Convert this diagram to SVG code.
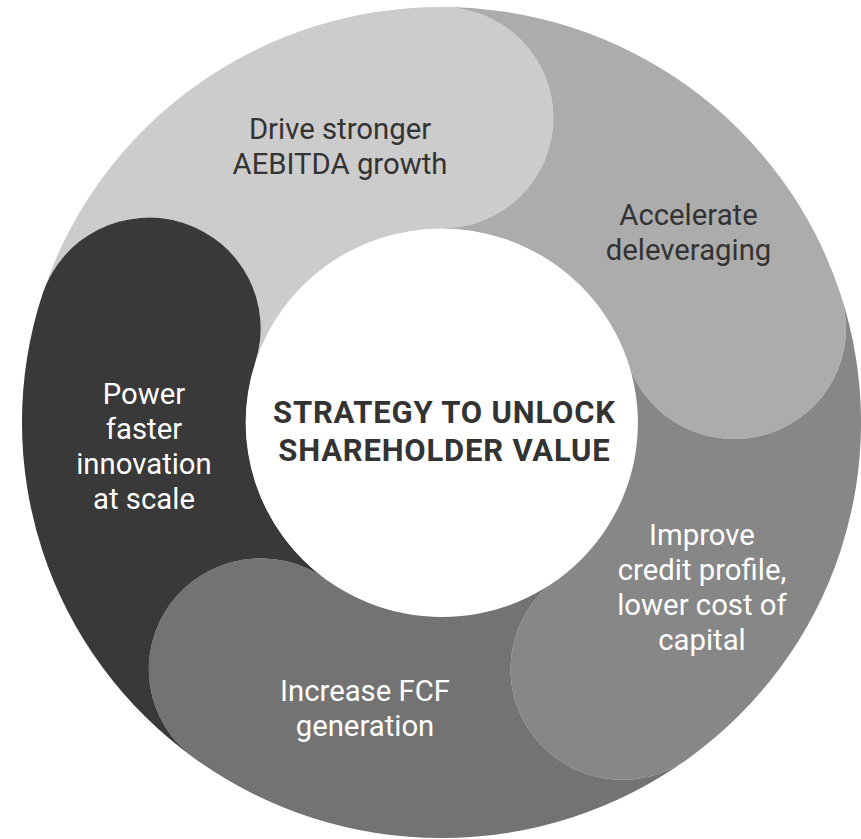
<svg xmlns="http://www.w3.org/2000/svg" width="861" height="839" viewBox="0 0 861 839">
<style>
.lbl{font-family:Roboto,"Liberation Sans",Arial,sans-serif;font-size:29.3px;text-anchor:middle}
.dk{fill:#333333}
.lt{fill:#ffffff}
.ctr{font-family:Roboto,"Liberation Sans",Arial,sans-serif;font-size:31px;letter-spacing:0.8px;font-weight:bold;text-anchor:middle;fill:#333333}
</style>
<rect width="861" height="839" fill="#ffffff"/>
<g id="ring" transform="translate(441.5,422.5) scale(1.0097,1)">
<g id="seg-drive"><path fill="#cccccc" d="M-184.505,-59.949 A110.75,110.75 0 0 0 -395.164,-128.397 A415.5,415.5 0 0 1 0,-415.5 A110.75,110.75 0 0 1 0,-194 A194,194 0 0 0 -184.505,-59.949 Z"/></g>
<g id="seg-accelerate"><path fill="#acacac" d="M0,-194 A110.75,110.75 0 0 0 0,-415.5 A415.5,415.5 0 0 1 395.164,-128.397 A110.75,110.75 0 0 1 184.505,-59.949 A194,194 0 0 0 0,-194 Z"/></g>
<g id="seg-improve"><path fill="#878787" d="M184.505,-59.949 A110.75,110.75 0 0 0 395.164,-128.397 A415.5,415.5 0 0 1 244.225,336.147 A110.75,110.75 0 0 1 114.030,156.949 A194,194 0 0 0 184.505,-59.949 Z"/></g>
<g id="seg-increase"><path fill="#737373" d="M114.030,156.949 A110.75,110.75 0 0 0 244.225,336.147 A415.5,415.5 0 0 1 -244.225,336.147 A110.75,110.75 0 0 1 -114.030,156.949 A194,194 0 0 0 114.030,156.949 Z"/></g>
<g id="seg-power"><path fill="#393939" d="M-114.030,156.949 A110.75,110.75 0 0 0 -244.225,336.147 A415.5,415.5 0 0 1 -395.164,-128.397 A110.75,110.75 0 0 1 -184.505,-59.949 A194,194 0 0 0 -114.030,156.949 Z"/></g>
<g id="center-node"><circle cx="0.5" cy="0.5" r="194" fill="#ffffff"/></g>
</g>
<g id="connectors"/>
<g id="labels">
<text class="lbl dk" x="340" y="138.5">Drive stronger</text>
<text class="lbl dk" x="340" y="174">AEBITDA growth</text>
<text class="lbl dk" x="688.5" y="225">Accelerate</text>
<text class="lbl dk" x="688.5" y="260">deleveraging</text>
<text class="lbl lt" x="702" y="545">Improve</text>
<text class="lbl lt" x="702" y="580">credit profile,</text>
<text class="lbl lt" x="702" y="615">lower cost of</text>
<text class="lbl lt" x="702" y="650">capital</text>
<text class="lbl lt" x="365" y="701">Increase FCF</text>
<text class="lbl lt" x="365" y="736">generation</text>
<text class="lbl lt" x="144" y="404">Power</text>
<text class="lbl lt" x="144" y="439">faster</text>
<text class="lbl lt" x="144" y="474">innovation</text>
<text class="lbl lt" x="144" y="509">at scale</text>
<text class="ctr" x="444.4" y="422.7">STRATEGY TO UNLOCK</text>
<text class="ctr" x="444.4" y="461">SHAREHOLDER VALUE</text>
</g>
</svg>
